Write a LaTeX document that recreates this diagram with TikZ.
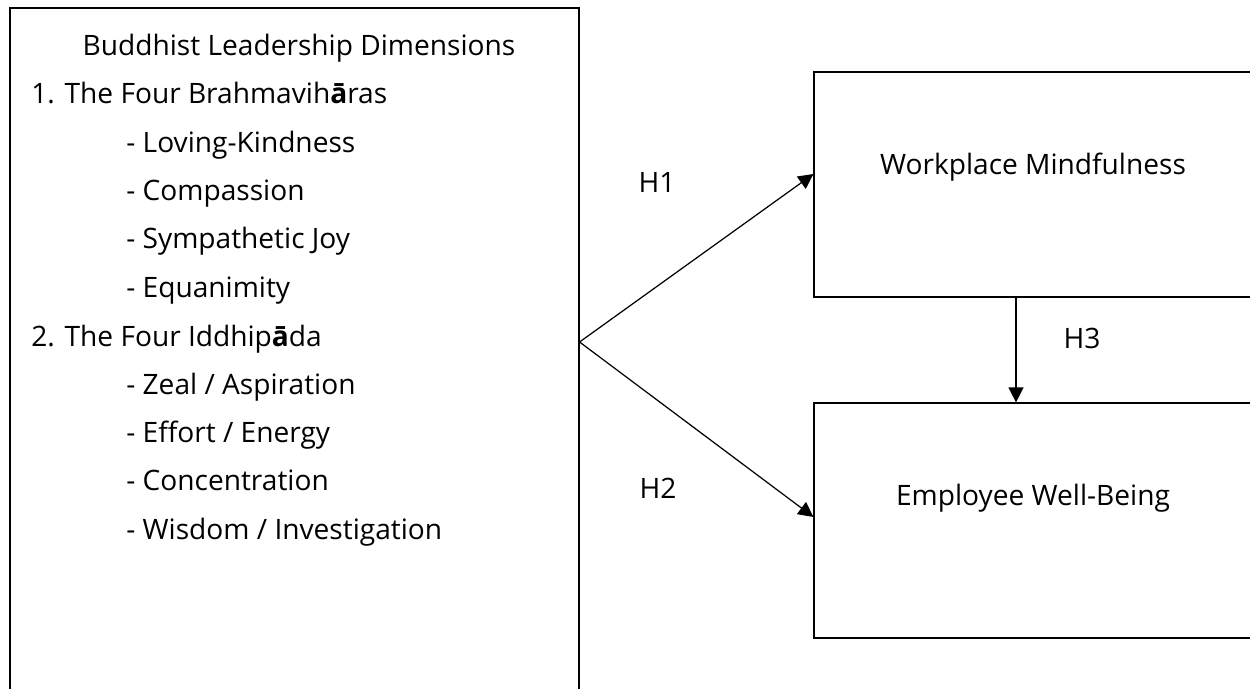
\documentclass[tikz,border=0pt]{standalone}
\usepackage{fontspec}
\setmainfont{Open Sans}
\usetikzlibrary{positioning, arrows.meta}

\begin{document}
\begin{tikzpicture}[
      x=0.02cm, y=-0.02cm,
      every node/.style={font=\fontsize{16pt}{19pt}\selectfont, inner sep=0pt},
      box/.style={draw, line width=0.7pt},
      varbox/.style={box, minimum width=8.76cm},
      item/.style={anchor=base west},
      link/.style={line width=0.7pt, -{Triangle[length=0.3cm, width=0.3cm]}}
    ]
    \useasboundingbox (0,0) rectangle (1250,689);
    \clip (0,0) rectangle (1250,689);
    % left column
    \node[box, minimum width=11.38cm, minimum height=14.24cm] (dims) at (294.5,364) {};
    \node[anchor=base] (title) at (299,56) {Buddhist Leadership Dimensions};
    \node[item] (brahma) at (31,104) {1. The Four Brahmavih\textbf{ā}ras};
    \foreach \t [count=\i] in {{Loving-Kindness}, {Compassion}, {Sympathetic Joy}, {Equanimity}}
      \node[item] (bv\i) at (126,{104+48.3*\i}) {- \t};
    \node[item] (iddhi) at (31,346) {2. The Four Iddhip\textbf{ā}da};
    \foreach \t [count=\i] in {{Zeal / Aspiration}, {Effort / Energy}, {Concentration}, {Wisdom / Investigation}}
      \node[item] (ip\i) at (126,{346+48.3*\i}) {- \t};
    % right column
    \node[varbox, minimum height=4.5cm] (wm) at (1033,184.5) {};
    \node[anchor=base] (wmtext) at ([yshift=-2.06cm]wm.north) {Workplace Mindfulness};
    \node[varbox, minimum height=4.7cm] (ewb) at (1033,520.5) {};
    \node[anchor=base] (ewbtext) at ([yshift=-2.06cm]ewb.north) {Employee Well-Being};
    % hypotheses
    \coordinate (fork) at (dims.east |- 0,342);
    \draw[link] (fork) -- (wm.west |- 0,174);
    \draw[link] (fork) -- (ewb.west |- 0,517);
    \draw[link] (wm.south -| 1016,0) -- (ewb.north -| 1016,0);
    \node (h1) at (657,182) {H1};
    \node (h2) at (658,488) {H2};
    \node (h3) at (1082,338) {H3};
\end{tikzpicture}
\end{document}
